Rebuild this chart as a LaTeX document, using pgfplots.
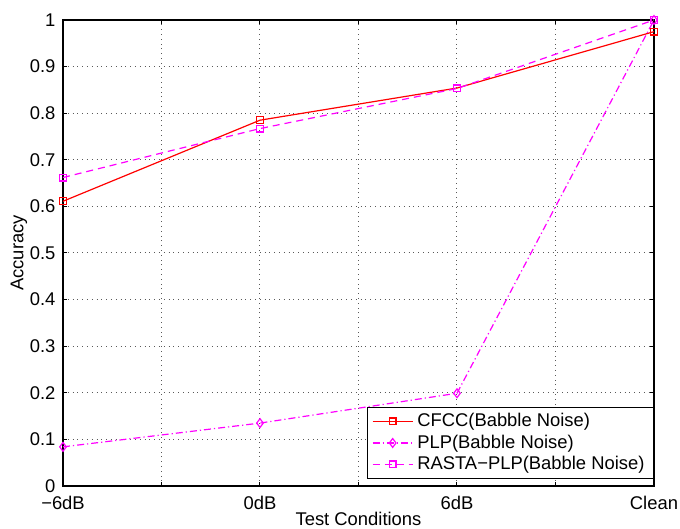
\documentclass[border=0pt]{standalone}
\usepackage{pgfplots}
\pgfplotsset{compat=1.18}
\usepackage{fontspec}
\setmainfont{Liberation Sans}
\usetikzlibrary{calc}
\definecolor{mred}{RGB}{255,0,0}
\definecolor{mmag}{RGB}{255,0,255}
\begin{document}
\fontsize{9.2}{11}\selectfont
\begin{tikzpicture}
\begin{axis}[
  scale only axis,
  width=295.5pt, height=233pt,
  xmin=0, xmax=3, ymin=0, ymax=1,
  xtick={0,0.5,1,1.5,2,2.5,3},
  xticklabels={−6dB,,0dB,,6dB,,Clean},
  ytick={0,0.1,0.2,0.3,0.4,0.5,0.6,0.7,0.8,0.9,1},
  yticklabels={0,0.1,0.2,0.3,0.4,0.5,0.6,0.7,0.8,0.9,1},
  tick align=inside, tick pos=both,
  major tick length=2.2pt,
  grid=major,
  major grid style={dotted, line width=0.5pt, black!65},
  axis line style={line width=0.6pt},
  every tick/.style={black, line width=0.5pt},
  xlabel={Test Conditions}, ylabel={Accuracy},
  xlabel style={yshift=5pt},
  ylabel style={yshift=-5pt},
  yticklabel style={xshift=-0.5pt},
  xticklabel style={yshift=-1.8pt},
  tick label style={font=\fontsize{9.2}{11}\selectfont},
  label style={font=\fontsize{9.2}{11}\selectfont},
  legend style={at={(rel axis cs:1,0)}, anchor=south east, yshift=3.5pt,
    font=\fontsize{9.2}{10}\selectfont, draw=black, line width=0.5pt,
    inner xsep=2.5pt, inner ysep=1pt, row sep=-1.3pt, cells={anchor=west}},
  legend image code/.code={\draw[mark repeat=2,mark phase=2] plot coordinates {(0pt,0pt) (10pt,0pt) (20pt,0pt)};},
  legend cell align=left,
]
\addplot[mred, line width=0.6pt, mark=square, mark size=1.7pt, mark options={solid}]
  coordinates {(0,0.611) (1,0.785) (2,0.854) (3,0.975)};
\addlegendentry{CFCC(Babble Noise)}
\addplot[mmag, line width=0.6pt, dash pattern=on 3.5pt off 1.5pt on 0.6pt off 1.5pt, mark=diamond, mark size=2.2pt, mark options={solid}]
  coordinates {(0,0.084) (1,0.135) (2,0.199) (3,1.0)};
\addlegendentry{PLP(Babble Noise)}
\addplot[mmag, line width=0.6pt, dash pattern=on 3.5pt off 2.5pt, mark=square, mark size=1.7pt, mark options={solid}]
  coordinates {(0,0.662) (1,0.767) (2,0.853) (3,1.0)};
\addlegendentry{RASTA−PLP(Babble Noise)}
\end{axis}
\pgfresetboundingbox
\path ($(current axis.south west)+(-31.5pt,-21.5pt)$) rectangle ($(current axis.north east)+(13pt,10pt)$);
\end{tikzpicture}
\end{document}
